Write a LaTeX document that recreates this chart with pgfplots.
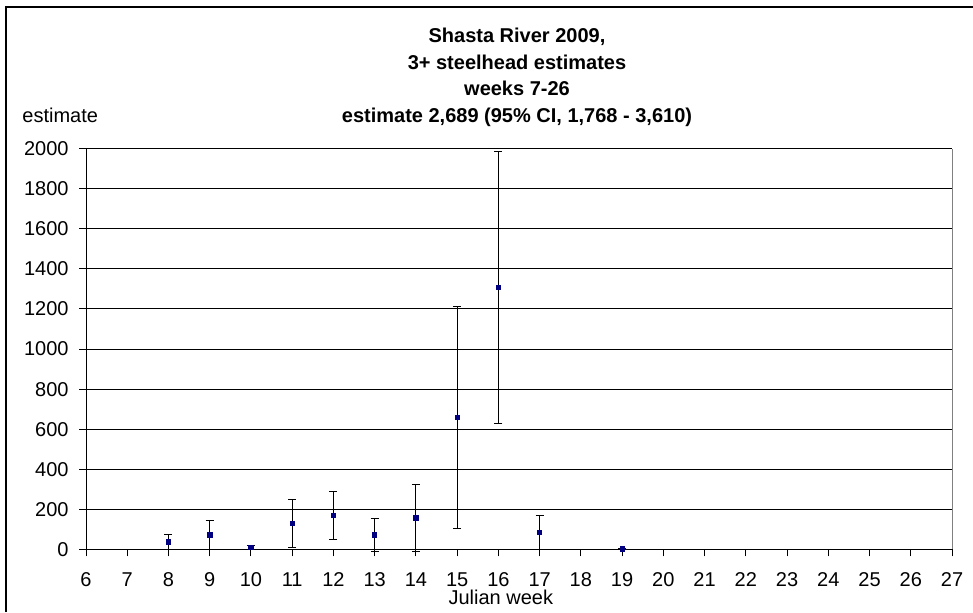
\documentclass[border=0pt]{standalone}
\usepackage{fontspec}
\setmainfont{Liberation Sans}
\usepackage{pgfplots}
\pgfplotsset{compat=1.18}
\usepackage{pgfplotstable}
\definecolor{navy}{RGB}{0,0,128}
\pgfplotstableread{
x y e
8 38 38
9 72 72
10 11 9
11 131 120
12 170 120
13 72 80
14 157 167
15 658 556
16 1308 680
17 85 85
19 3 3
}\datatable
\begin{document}
\begin{tikzpicture}[x=1pt,y=1pt]
\path[use as bounding box] (0,0) rectangle (486.5,-306);
\draw[line width=0.75pt] (3,-306) -- (3,-3.5) -- (486.5,-3.5);
\begin{axis}[
  at={(43pt,-274.7pt)}, anchor=south west,
  scale only axis, width=433pt, height=200.35pt,
  xmin=6, xmax=27, ymin=0, ymax=2000,
  xtick={6,...,27}, ytick={0,200,...,2000},
  axis lines=left, axis line style={-, black, line width=0.5pt},
  tick align=outside, tick style={black, line width=0.5pt},
  major tick length=3.5pt,
  ymajorgrids, grid style={black, line width=0.5pt},
  clip=false,
  /pgf/number format/assume math mode=true,
  /pgf/number format/set thousands separator={},
  ticklabel style={font=\fontsize{10pt}{12pt}\selectfont},
  yticklabel style={inner sep=0pt, anchor=east, xshift=-5pt},
  xticklabel style={inner sep=0pt, anchor=north, yshift=-8pt},
  xlabel={Julian week},
  xlabel style={at={(axis description cs:0.479,0)}, anchor=base, inner sep=0pt, yshift=-27.75pt},
]
\draw[gray, line width=0.5pt] (rel axis cs:1,0) -- (rel axis cs:1,1);
\addplot[only marks, mark=square*, mark size=1.1pt, color=navy,
  error bars/.cd, y dir=both, y explicit,
  error bar style={black, line width=0.5pt},
  error mark options={black, line width=0.5pt, mark size=2pt, rotate=90}]
  table[x=x, y=y, y error=e] {\datatable};
\end{axis}
\node[anchor=base west, inner sep=0pt] at (11,-61) {estimate};
\node[anchor=base, inner sep=0pt, font=\bfseries] at (258.5,-21) {Shasta River 2009,};
\node[anchor=base, inner sep=0pt, font=\bfseries] at (258.5,-34.5) {3+ steelhead estimates};
\node[anchor=base, inner sep=0pt, font=\bfseries] at (258.5,-47.5) {weeks 7-26};
\node[anchor=base, inner sep=0pt, font=\bfseries] at (258.5,-61) {estimate 2,689 (95\% CI, 1,768 - 3,610)};
\end{tikzpicture}
\end{document}
